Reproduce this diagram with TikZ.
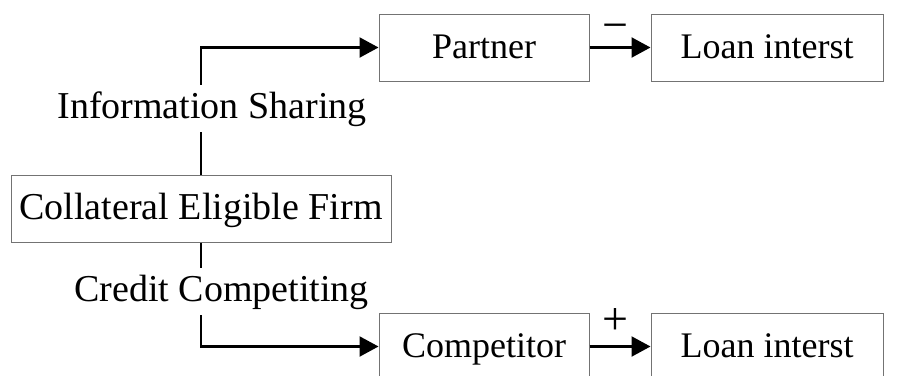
\documentclass[tikz,border=0pt]{standalone}
\usepackage{fontspec}
\setmainfont{Liberation Serif}
\usetikzlibrary{arrows.meta}
\begin{document}
\begin{tikzpicture}[x=1pt,y=-1pt,
  box/.style={draw=black!55, line width=1pt, minimum height=67pt, inner sep=0pt,
              text height=28pt, text depth=6pt, anchor=center},
  lbox/.style={box, font=\fontsize{38}{40}\selectfont},
  rbox/.style={box, font=\fontsize{36}{38}\selectfont},
  lbl/.style={font=\fontsize{38}{40}\selectfont, inner xsep=0pt, inner ysep=6pt,
              text height=27pt, text depth=8pt, anchor=base},
  sign/.style={font=\fontsize{46}{48}\selectfont, inner sep=0pt, anchor=base},
  conn/.style={line width=2.2pt},
  arr/.style={conn, -{Triangle[length=19pt,width=20pt]}}
]
\useasboundingbox (0,0) rectangle (917,375);
\node[rbox, minimum width=210pt] (partner) at (484,47.5) {Partner};
\node[rbox, minimum width=232pt] (loan1) at (767,47.5) {Loan interst};
\node[lbox, minimum width=380pt] (firm) at (201,208.5) {Collateral Eligible Firm};
\node[rbox, minimum width=210pt] (comp) at (484,346.5) {Competitor};
\node[rbox, minimum width=232pt] (loan2) at (767,346.5) {Loan interst};
\node[lbl] (info) at (212,118) {Information Sharing};
\node[lbl] (credit) at (221.5,301) {Credit Competiting};
\draw[conn] (firm.north) -- (firm.north |- info.south);
\draw[arr] (firm.north |- info.north) |- (partner.west);
\draw[conn] (firm.south) -- (firm.south |- credit.north);
\draw[arr] (firm.south |- credit.south) |- (comp.west);
\draw[arr] (partner.east) -- (loan1.west);
\draw[arr] (comp.east) -- (loan2.west);
\node[sign] (minus) at (615.5,40) {−};
\node[sign] (plus) at (615.5,334.5) {+};
\end{tikzpicture}
\end{document}
